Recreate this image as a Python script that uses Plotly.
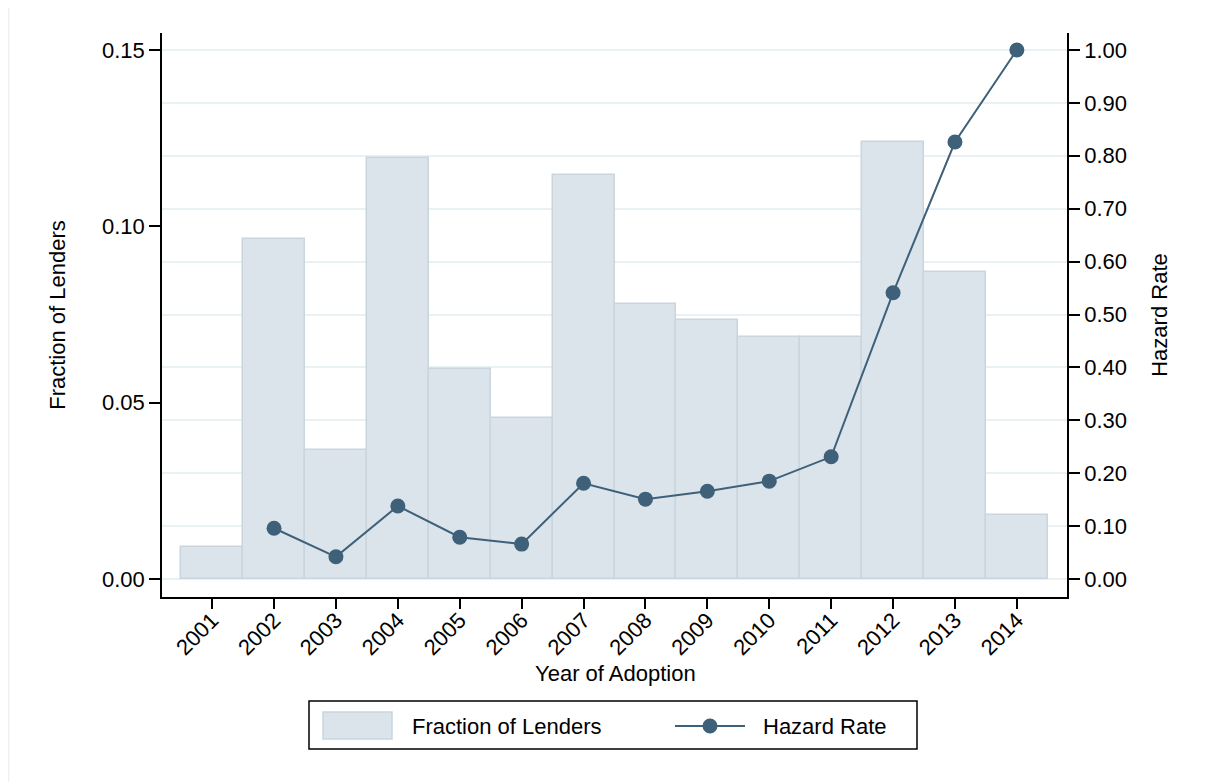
import plotly.graph_objects as go

years = [2001, 2002, 2003, 2004, 2005, 2006, 2007, 2008, 2009, 2010, 2011, 2012, 2013, 2014]
fraction_of_lenders = [0.0091, 0.0964, 0.0366, 0.1194, 0.0595, 0.0457, 0.1146, 0.0780,
                       0.0734, 0.0686, 0.0686, 0.1239, 0.0871, 0.0181]
hazard_years = [2002, 2003, 2004, 2005, 2006, 2007, 2008, 2009, 2010, 2011, 2012, 2013, 2014]
hazard_rate = [0.096, 0.042, 0.138, 0.079, 0.066, 0.181, 0.151, 0.166, 0.185, 0.231,
               0.541, 0.826, 1.000]
left_ticks = [0.00, 0.05, 0.10, 0.15]
right_ticks = [0.0, 0.1, 0.2, 0.3, 0.4, 0.5, 0.6, 0.7, 0.8, 0.9, 1.0]

FONT = "Liberation Sans, Arial, Helvetica, sans-serif"
FS = 22
LINE_COLOR = "#3e6079"
BAR_FILL = "#dbe3eb"
BAR_EDGE = "#c9d6e0"
GRID = "#eaf1f4"

# screen geometry (page has an 8px body offset)
PL, PR, PT, PB = 162, 1067, 33, 597
PW, PH = PR - PL, PB - PT


def px(x):
    return (x - PL) / PW


def py(y):
    return (PB - y) / PH


fig = go.Figure()
fig.add_trace(go.Bar(
    x=years, y=fraction_of_lenders, name="Fraction of Lenders",
    width=1.0, marker=dict(color=BAR_FILL, line=dict(color=BAR_EDGE, width=1.5)),
    yaxis="y",
))
fig.add_trace(go.Scatter(
    x=hazard_years, y=hazard_rate, name="Hazard Rate", mode="lines+markers",
    line=dict(color=LINE_COLOR, width=2),
    marker=dict(color=LINE_COLOR, size=15),
    yaxis="y2",
))

fig.update_layout(
    width=1205, height=782,
    margin=dict(l=PL - 8, r=1205 - (PR - 8), t=PT - 8, b=782 - (PB - 8)),
    paper_bgcolor="white", plot_bgcolor="white",
    font=dict(family=FONT, size=FS, color="black"),
    bargap=0,
    showlegend=False,
    xaxis=dict(
        range=[2000.19, 2014.81], tickmode="array", tickvals=years,
        ticktext=[str(y) for y in years], tickangle=-45,
        tickfont=dict(size=FS), ticklabelstandoff=-10,
        showline=True, linecolor="black", linewidth=1.5,
        ticks="outside", ticklen=10, tickwidth=1.5, tickcolor="black",
        showgrid=False, zeroline=False,
    ),
    yaxis=dict(
        range=[-0.0051, 0.1548], tickmode="array", tickvals=left_ticks,
        ticktext=[f"{v:.2f}" for v in left_ticks],
        tickfont=dict(size=FS),
        showline=True, linecolor="black", linewidth=1.5,
        ticks="outside", ticklen=11, tickwidth=1.5, tickcolor="black",
        showgrid=False, zeroline=False,
        title=dict(text="Fraction of Lenders", standoff=30, font=dict(size=FS)),
    ),
    yaxis2=dict(
        range=[-0.034, 1.0321], overlaying="y", side="right",
        tickmode="array", tickvals=right_ticks,
        ticktext=[f"{v:.2f}" for v in right_ticks],
        tickfont=dict(size=FS),
        showline=True, linecolor="black", linewidth=1.5,
        ticks="outside", ticklen=11, tickwidth=1.5, tickcolor="black",
        showgrid=True, gridcolor=GRID, gridwidth=2, zeroline=False,
        title=dict(text="Hazard Rate", standoff=26, font=dict(size=FS)),
    ),
)

# x-axis title placed as in the original
fig.add_annotation(xref="paper", yref="paper", x=px(615), y=py(673),
                   text="Year of Adoption", showarrow=False,
                   xanchor="center", yanchor="middle", font=dict(size=FS))

# light outer frame of the figure
fig.add_shape(type="rect", xref="paper", yref="paper",
              x0=px(8.5), x1=px(1230), y0=py(800), y1=py(6),
              line=dict(color="#edf2f5", width=2), layer="below")

# legend box drawn by hand (wide swatch like the original)
fig.add_shape(type="rect", xref="paper", yref="paper",
              x0=px(309), x1=px(917), y0=py(749), y1=py(701),
              line=dict(color="black", width=1.5), fillcolor="white")
fig.add_shape(type="rect", xref="paper", yref="paper",
              x0=px(323), x1=px(392), y0=py(739), y1=py(712),
              line=dict(color=BAR_EDGE, width=1.5), fillcolor=BAR_FILL)
fig.add_shape(type="line", xref="paper", yref="paper",
              x0=px(675), x1=px(745), y0=py(726), y1=py(726),
              line=dict(color=LINE_COLOR, width=2))
fig.add_shape(type="circle", xref="paper", yref="paper",
              x0=px(702.5), x1=px(717.5), y0=py(733.5), y1=py(718.5),
              line=dict(color=LINE_COLOR, width=0), fillcolor=LINE_COLOR)
fig.add_annotation(xref="paper", yref="paper", x=px(410), y=py(726),
                   text="Fraction of Lenders", showarrow=False,
                   xanchor="left", yanchor="middle", font=dict(size=FS))
fig.add_annotation(xref="paper", yref="paper", x=px(761), y=py(726),
                   text="Hazard Rate", showarrow=False,
                   xanchor="left", yanchor="middle", font=dict(size=FS))

fig.write_html("out.html")
